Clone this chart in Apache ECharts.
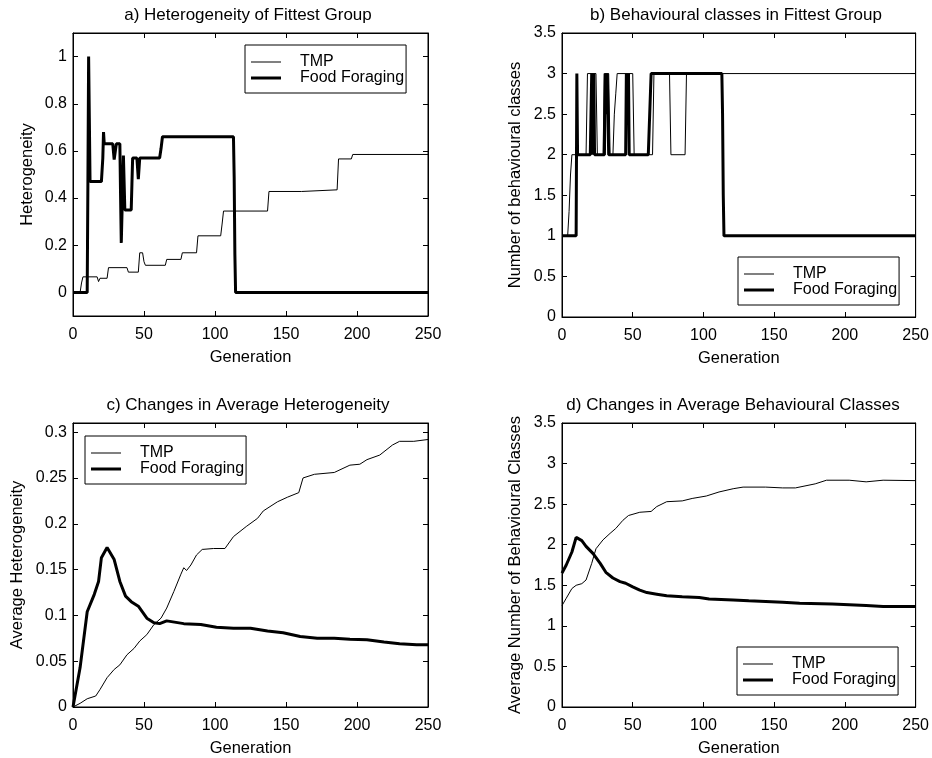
<!DOCTYPE html>
<html>
<head>
<meta charset="UTF-8">
<title>Heterogeneity and behavioural classes</title>
<script src="https://cdn.jsdelivr.net/npm/echarts@6/dist/echarts.min.js"></script>
<style>
html, body { margin:0; padding:0; background:#fff; }
#chart { width:932px; height:758px; }
</style>
</head>
<body>
<div id="chart"></div>
<script>
// tick labels
var aTicks = [0, 0.2, 0.4, 0.6, 0.8, 1];
var bTicks = [0, 0.5, 1, 1.5, 2, 2.5, 3, 3.5];
var cTicks = [0, 0.05, 0.1, 0.15, 0.2, 0.25, 0.3];
var dTicks = [0, 0.5, 1, 1.5, 2, 2.5, 3, 3.5];

// a) heterogeneity of fittest group  [generation, value]
var aTmp = [[0,0],[5,0],[6,0.04],[7,0.066],[17,0.066],[18,0.046],[19,0.06],[24,0.06],[25,0.105],[38,0.105],[39,0.086],[46,0.086],[47,0.168],[49,0.168],[50,0.13],[51,0.115],[65,0.115],[66,0.14],[76,0.14],[77,0.168],[87,0.168],[88,0.24],[104,0.24],[105,0.29],[106,0.345],[137,0.345],[138,0.428],[161,0.428],[162,0.435],[186,0.435],[187,0.566],[196,0.566],[197,0.585],[250,0.585]];
var aFood = [[0,0],[10,0],[10.5,0.47],[11,1.0],[11.5,0.74],[12,0.47],[20,0.47],[21,0.57],[21.5,0.68],[22,0.63],[28,0.63],[29,0.563],[30,0.563],[30.5,0.63],[33,0.63],[33.5,0.41],[34,0.21],[35,0.21],[35.5,0.58],[36.5,0.35],[41,0.35],[41.5,0.46],[42,0.57],[45,0.57],[46,0.48],[47,0.57],[61,0.57],[62,0.61],[63,0.66],[113,0.66],[113.5,0.49],[114,0.16],[114.5,0],[250,0]];

// b) behavioural classes in fittest group
var bTmp = [[0,1],[4,1],[5,1.3],[6,1.75],[7,2],[17,2],[18,3],[24,3],[25,2],[29,2],[30,3],[33,3],[34,2],[36,2],[37,2.5],[38,2.75],[39,3],[50,3],[51,2],[64,2],[65,3],[76,3],[77,2],[87,2],[88,3],[250,3]];
var bFood = [[0,1],[10,1],[10.5,3],[11,2],[20,2],[21,3],[22,2],[22.5,3],[23,2],[30,2],[30.5,3],[31,2.5],[32,3],[33,2],[45,2],[45.5,3],[46,2.5],[47,3],[47.5,2],[61,2],[62,2.5],[63,3],[113,3],[113.5,2.5],[114,1.5],[114.5,1],[250,1]];

// c) changes in average heterogeneity
var cTmp = [[0,0],[5,0.004],[10,0.009],[16,0.012],[19,0.019],[24,0.032],[29,0.041],[33,0.046],[38,0.057],[43,0.064],[47,0.072],[52,0.079],[57,0.09],[62,0.097],[66,0.108],[71,0.126],[76,0.145],[78,0.152],[80,0.149],[83,0.155],[87,0.166],[91,0.172],[99,0.173],[107,0.173],[113,0.186],[122,0.197],[130,0.206],[134,0.214],[144,0.224],[151,0.229],[159,0.234],[162,0.25],[170,0.254],[184,0.256],[195,0.264],[202,0.265],[207,0.27],[216,0.275],[225,0.286],[230,0.29],[240,0.29],[250,0.292]];
var cFood = [[0,0],[5,0.043],[10,0.104],[15,0.123],[18,0.137],[20,0.163],[24,0.174],[29,0.161],[33,0.137],[37,0.121],[41,0.115],[46,0.11],[52,0.097],[57,0.092],[61,0.091],[66,0.094],[78,0.091],[90,0.09],[101,0.087],[113,0.086],[125,0.086],[137,0.083],[148,0.081],[160,0.077],[172,0.075],[184,0.075],[195,0.074],[207,0.0735],[219,0.071],[230,0.069],[242,0.068],[250,0.068]];

// d) changes in average behavioural classes
var dTmp = [[0,1.25],[3,1.34],[7,1.46],[10,1.5],[14,1.52],[17,1.565],[21,1.77],[24,1.95],[29,2.06],[34,2.14],[38,2.2],[43,2.3],[47,2.36],[55,2.4],[63,2.41],[67,2.47],[74,2.53],[85,2.54],[92,2.57],[102,2.6],[111,2.65],[121,2.69],[128,2.71],[144,2.71],[156,2.7],[165,2.7],[179,2.75],[187,2.795],[203,2.795],[215,2.775],[227,2.795],[250,2.79]];
var dFood = [[0,1.65],[3,1.75],[7,1.91],[10,2.09],[14,2.05],[17,1.98],[22,1.89],[27,1.77],[31,1.66],[36,1.59],[41,1.545],[45,1.525],[50,1.48],[55,1.44],[60,1.41],[67,1.39],[74,1.37],[85,1.36],[97,1.35],[104,1.33],[121,1.32],[132,1.31],[144,1.3],[156,1.29],[168,1.28],[191,1.27],[203,1.26],[215,1.25],[227,1.24],[250,1.24]];

var font = 'Arial, "Liberation Sans", sans-serif';
var black = '#000';

var panels = [
    {title:'a) Heterogeneity of Fittest Group', tx:248, ty:15, left:73, top:33, width:355, height:283,
     ymin:-0.1, ymax:1.1, ticks:aTicks, yName:'Heterogeneity', nameGap:37, tmp:aTmp, food:aFood, legend:[245,45]},
    {title:'b) Behavioural classes in Fittest Group', tx:736, ty:15, left:562, top:33, width:354, height:284,
     ymin:0, ymax:3.5, ticks:bTicks, yName:'Number of behavioural classes', nameGap:38, tmp:bTmp, food:bFood, legend:[738,257]},
    {title:'c) Changes in Average Heterogeneity', tx:248, ty:405, left:73, top:423, width:355, height:285,
     ymin:0, ymax:0.31, ticks:cTicks, yName:'Average Heterogeneity', nameGap:47, tmp:cTmp, food:cFood, legend:[85,436]},
    {title:'d) Changes in Average Behavioural Classes', tx:733, ty:405, left:562, top:423, width:354, height:285,
     ymin:0, ymax:3.5, ticks:dTicks, yName:'Average Number of Behavioural Classes', nameGap:38, tmp:dTmp, food:dFood, legend:[737,647]}
];

var axisLine = {show:true, onZero:false, lineStyle:{color:black, width:1}};
var grid = [], xAxis = [], yAxis = [], series = [], legend = [], graphic = [];

panels.forEach(function(p, g){
    grid.push({left:p.left, top:p.top, width:p.width, height:p.height, show:true, borderColor:black, borderWidth:1});

    // bottom + top
    xAxis.push({gridIndex:g, type:'value', min:0, max:250, interval:50, position:'bottom',
        name:'Generation', nameLocation:'middle', nameGap:33,
        nameTextStyle:{fontSize:16.5, color:black, fontFamily:font},
        axisLine:axisLine, axisTick:{inside:true, length:5, lineStyle:{color:black}},
        axisLabel:{fontSize:16, color:black, fontFamily:font, margin:11},
        splitLine:{show:false}});
    xAxis.push({gridIndex:g, type:'value', min:0, max:250, interval:50, position:'top',
        axisLine:axisLine, axisTick:{inside:true, length:5, lineStyle:{color:black}},
        axisLabel:{show:false}, splitLine:{show:false}});

    // left + right
    yAxis.push({gridIndex:g, type:'value', min:p.ymin, max:p.ymax, position:'left',
        name:p.yName, nameLocation:'middle', nameGap:p.nameGap,
        nameTextStyle:{fontSize:16.5, color:black, fontFamily:font},
        axisLine:axisLine,
        axisTick:{inside:true, length:5, customValues:p.ticks, lineStyle:{color:black}},
        axisLabel:{fontSize:16, color:black, fontFamily:font, margin:6, customValues:p.ticks},
        splitLine:{show:false}});
    yAxis.push({gridIndex:g, type:'value', min:p.ymin, max:p.ymax, position:'right',
        axisLine:axisLine,
        axisTick:{inside:true, length:5, customValues:p.ticks, lineStyle:{color:black}},
        axisLabel:{show:false}, splitLine:{show:false}});

    series.push({name:'TMP', type:'line', xAxisIndex:2*g, yAxisIndex:2*g, data:p.tmp,
        symbol:'none', lineStyle:{color:black, width:1}, itemStyle:{color:black}, z:3});
    series.push({name:'Food Foraging', type:'line', xAxisIndex:2*g, yAxisIndex:2*g, data:p.food,
        symbol:'none', lineStyle:{color:black, width:3}, itemStyle:{color:black}, z:2});

    legend.push({left:p.legend[0], top:p.legend[1], orient:'vertical', selectedMode:false,
        backgroundColor:'#fff', borderColor:black, borderWidth:1, padding:[9,2,7,6],
        itemWidth:30, itemHeight:12, itemGap:0, itemStyle:{color:black, borderWidth:0},
        textStyle:{fontSize:16, color:black, fontFamily:font, lineHeight:14, padding:[0,0,0,14]},
        data:[{name:'TMP', icon:'path://M0,0L30,0L30,1L0,1Z'},
              {name:'Food Foraging', icon:'path://M0,0L30,0L30,3L0,3Z'}]});

    graphic.push({type:'text', x:p.tx, y:p.ty,
        style:{text:p.title, fill:black, font:'17px ' + font, align:'center', verticalAlign:'middle'}});
});

var myChart = echarts.init(document.getElementById('chart'));
myChart.setOption({
    backgroundColor:'#fff',
    animation:false,
    grid:grid,
    xAxis:xAxis,
    yAxis:yAxis,
    legend:legend,
    graphic:graphic,
    series:series
});
</script>
</body>
</html>
